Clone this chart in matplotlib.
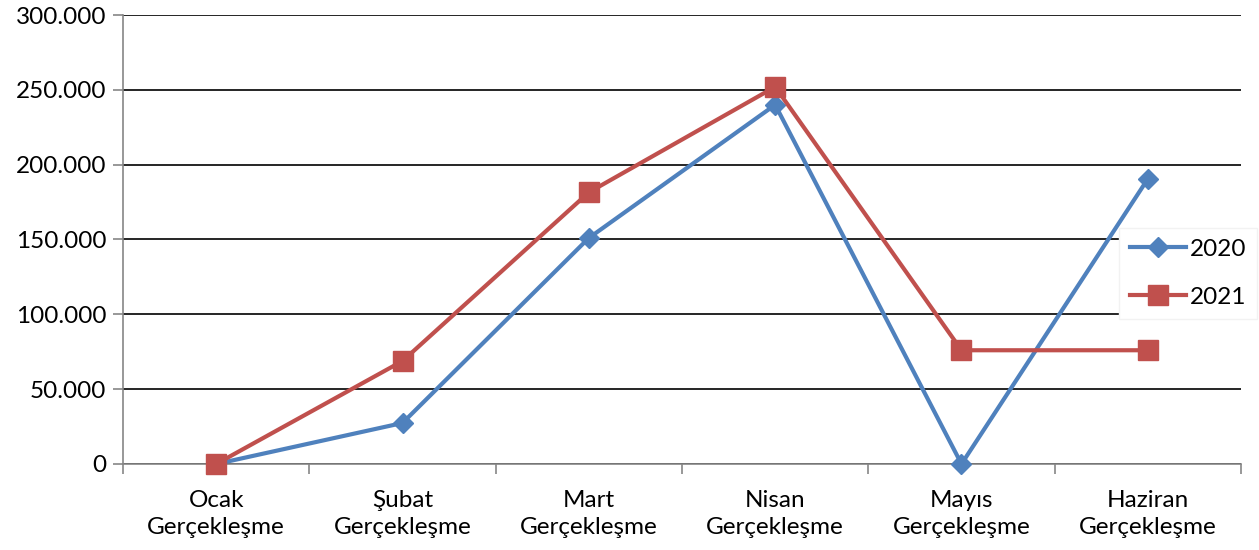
import matplotlib
matplotlib.use("Agg")
import matplotlib.pyplot as plt
import numpy as np

plt.rcParams['font.family'] = ['Lato', 'DejaVu Sans']

months = ["Ocak\nGerçekleşme", "Şubat\nGerçekleşme", "Mart\nGerçekleşme",
          "Nisan\nGerçekleşme", "Mayıs\nGerçekleşme", "Haziran\nGerçekleşme"]
values_2020 = [0, 27400, 151000, 240000, 0, 190500]
values_2021 = [0, 68800, 181500, 252000, 76000, 76000]

fig = plt.figure(figsize=(12.59, 5.5), dpi=100)
ax = fig.add_axes([123/1259, 86/550, (1241-123)/1259, (464-15)/550])

x = np.arange(len(months))
l1, = ax.plot(x, values_2020, color='#4F81BD', lw=3, marker='D', markersize=10,
              label='2020', clip_on=False, zorder=3)
l2, = ax.plot(x, values_2021, color='#C0504D', lw=3, marker='s', markersize=14,
              label='2021', clip_on=False, zorder=4)

ax.set_xlim(-0.5, len(months) - 0.5)
ax.set_ylim(0, 300000)
ax.set_yticks(np.arange(0, 300001, 50000))
ax.set_yticklabels(['0' if v == 0 else f"{v // 1000}.000" for v in range(0, 300001, 50000)])
ax.yaxis.grid(True, color='black', lw=1.2)
ax.set_axisbelow(True)

ax.set_xticks(x)
ax.set_xticklabels(months, linespacing=1.35)
ax.set_xticks(np.arange(-0.5, len(months)), minor=True)
ax.tick_params(axis='x', which='major', length=0, pad=19, labelsize=17.5)
ax.tick_params(axis='x', which='minor', length=7, color='#868686', width=1.2)
ax.tick_params(axis='y', length=7, color='#868686', width=1.2, labelsize=17.5, pad=5)

for s in ['top', 'right']:
    ax.spines[s].set_visible(False)
for s in ['left', 'bottom']:
    ax.spines[s].set_color('#868686')
    ax.spines[s].set_linewidth(1.2)

leg = fig.legend(handles=[l1, l2], loc='upper left', bbox_to_anchor=(1119/1259, 1 - 228/550),
                 frameon=True, fontsize=17.5, handlelength=2.3, labelspacing=1.1,
                 borderpad=0.45, borderaxespad=0, handletextpad=0.15, fancybox=False)
leg.get_frame().set_edgecolor('#f2f2f2')
leg.get_frame().set_facecolor('white')
leg.get_frame().set_alpha(1)

fig.savefig('out.png', dpi=100)
